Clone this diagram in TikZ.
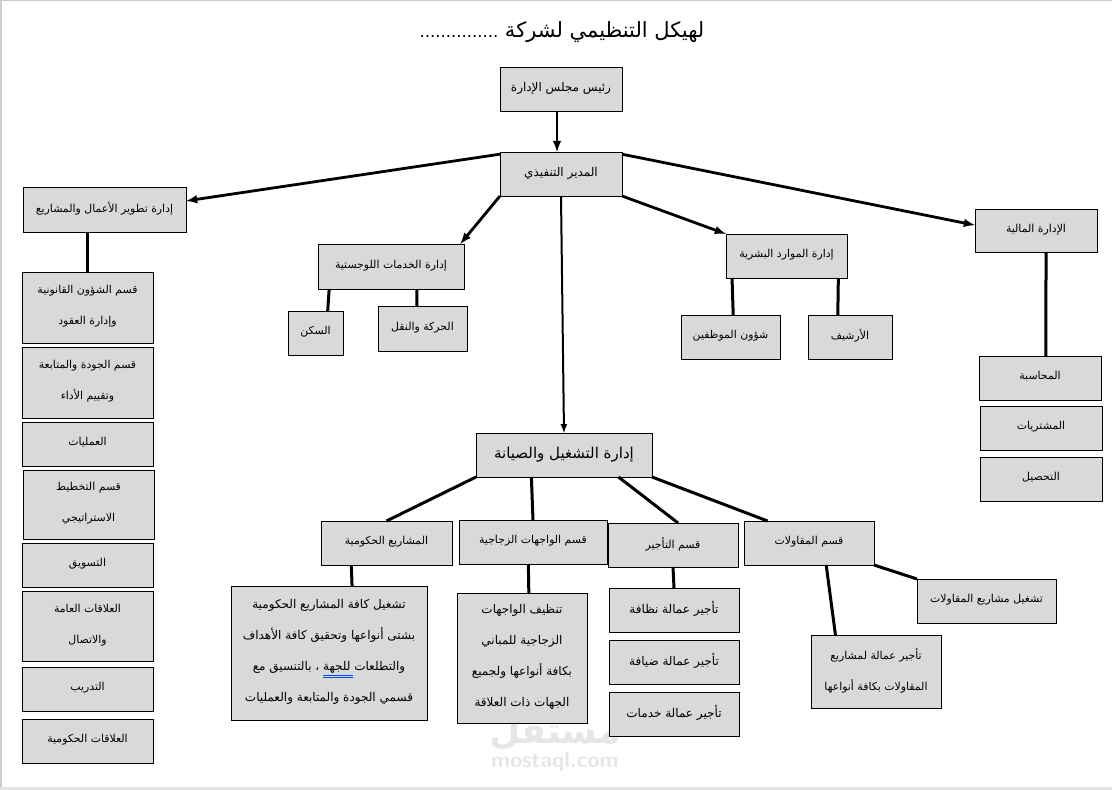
\documentclass[tikz,border=0pt]{standalone}
\usepackage{fontspec}
\newfontfamily\arabicfont[Script=Arabic]{DejaVu Sans}
\TeXXeTstate=1
\newcommand{\rl}[1]{\beginR #1\endR}
\newcommand{\rb}[1]{\fontsize{12}{31}\selectfont\beginR #1\endR}
\definecolor{boxgray}{HTML}{D9D9D9}
\definecolor{framegray}{HTML}{CCCCCC}
\definecolor{markgray}{HTML}{E6E6E6}
\tikzset{
    orgbox/.style={rectangle, draw, fill=boxgray, line width=0.8pt, outer sep=0pt, inner sep=0pt, align=center, text depth=5pt,
        font=\arabicfont\fontsize{10.9}{31}\selectfont},
    thickline/.style={line width=3pt},
    arrowline/.style={line width=2.8pt, -latex}
}
\begin{document}
\begin{tikzpicture}[x=1pt, y=-1pt]
\useasboundingbox (0,0) rectangle (1112,790);
\fill[framegray] (0,0) rectangle (1112,1);
\fill[framegray] (0,0) rectangle (2,790);
\fill[framegray!50] (0,787) rectangle (1112,790);
% watermark
\node[text=markgray, font=\arabicfont\bfseries\fontsize{36}{40}\selectfont] (markar) at (555,733) {\rl{مستقل}};
\node[text=markgray, font=\sffamily\bfseries\fontsize{22}{24}\selectfont] (markla) at (555,762) {mostaql.com};
% title
\node[font=\arabicfont\fontsize{21}{24}\selectfont] (title) at (562,32) {\rl{لهيكل التنظيمي لشركة {\fontsize{16.5}{24}\selectfont ...............}}};
% boxes
\foreach \name/\xc/\yc/\ww/\hh/\txt in {
    chair/561/89/122/44/{\rb{رئيس مجلس الإدارة}},
    ceo/561/174/122/44/{\rb{المدير التنفيذي}},
    dev/104.5/209.5/163/45/{\rl{إدارة تطوير الأعمال والمشاريع}},
    log/391/266.5/146/45/{\rl{إدارة الخدمات اللوجستية}},
    hr/786.5/256/121/44/{\rl{إدارة الموارد البشرية}},
    fin/1036/230.5/122/43/{\rl{الإدارة المالية}},
    housing/315.5/333/55/44/{\rl{السكن}},
    transport/422.5/328.5/89/45/{\rl{الحركة والنقل}},
    staff/730.5/337/99/44/{\rl{شؤون الموظفين}},
    archive/850/337/84/44/{\rl{الأرشيف}},
    accounting/1040/378/122/44/{\rl{المحاسبة}},
    purchases/1041/428/122/44/{\rl{المشتريات}},
    collection/1041/479/122/44/{\rl{التحصيل}},
    legal/87.5/307.5/131/71/{\rl{قسم الشؤون القانونية}\\\rl{وإدارة العقود}},
    quality/87.5/382.5/131/71/{\rl{قسم الجودة والمتابعة}\\\rl{وتقييم الأداء}},
    operations/87.5/444/131/44/{\rl{العمليات}},
    planning/88.5/504.5/131/69/{\rl{قسم التخطيط}\\\rl{الاستراتيجي}},
    marketing/87.5/565/131/44/{\rl{التسويق}},
    relations/87.5/626/131/70/{\rl{العلاقات العامة}\\\rl{والاتصال}},
    training/87.5/689/131/44/{\rl{التدريب}},
    government/87.5/741/131/44/{\rl{العلاقات الحكومية}},
    projects/386.5/543/131/44/{\rl{المشاريع الحكومية}},
    glass/533/542/148/44/{\rl{قسم الواجهات الزجاجية}},
    rent/673/545/130/44/{\rl{قسم التأجير}},
    contract/809/543/130/44/{\rl{قسم المقاولات}},
    projectsinfo/329/653/196/134/{\rb{تشغيل كافة المشاريع الحكومية}\\\rb{بشتى أنواعها وتحقيق كافة الأهداف}\\\rb{والتطلعات للجهة ، بالتنسيق مع}\\\rb{قسمي الجودة والمتابعة والعمليات}},
    glassinfo/522/658/130/130/{\rb{تنظيف الواجهات}\\\rb{الزجاجية للمباني}\\\rb{بكافة أنواعها ولجميع}\\\rb{الجهات ذات العلاقة}},
    cleaning/674/610/130/44/{\rb{تأجير عمالة نظافة}},
    hospitality/674/662/130/44/{\rb{تأجير عمالة ضيافة}},
    services/674/714/130/44/{\rb{تأجير عمالة خدمات}},
    contractops/986.5/601/139/44/{\rl{تشغيل مشاريع المقاولات}},
    labour/876/671.5/130/73/{\rl{تأجير عمالة لمشاريع}\\\rl{المقاولات بكافة أنواعها}}%
} {
    \node[orgbox, minimum width=\ww pt, minimum height=\hh pt] (\name) at (\xc,\yc) {\txt};
}
\node[orgbox, font=\arabicfont\fontsize{15}{31}\selectfont, minimum width=176pt, minimum height=44pt] (ops) at (564,455) {\rl{إدارة التشغيل والصيانة}};
% spelling mark
\draw[blue!70!cyan, line width=0.5pt] (323,675.5) -- (353,675.5) (323,677.5) -- (353,677.5);
% connectors
\draw[arrowline] ([xshift=-4pt]chair.south) -- ([xshift=-4pt]ceo.north);
\draw[arrowline] (ceo.162) -- (dev.6);
\draw[arrowline] (ceo.south west) -- (log.18);
\draw[arrowline] (ceo.south east) -- (hr.north west);
\draw[arrowline] (ceo.18) -- (fin.175);
\draw[line width=2pt, -latex] (ceo.south) -- (ops.north);
\draw[thickline] (legal.north |- dev.south) -- (legal.north);
\draw[thickline] (log.200) -- (housing.61);
\draw[thickline] (log.-41) -- (transport.104);
\draw[thickline] (hr.202.4) -- (staff.83.5);
\draw[thickline] (hr.-23) -- (archive.119);
\draw[thickline] (fin.-65) -- (accounting.75);
\draw[thickline] (ops.south west) -- (projects.north);
\draw[thickline] (ops.214.5) -- (glass.north);
\draw[thickline] (ops.-22.5) -- (rent.77);
\draw[thickline] (ops.south east) -- (contract.152);
\draw[thickline] (projects.212.5) -- (projectsinfo.71);
\draw[thickline] (glass.-102.8) -- (glassinfo.84.7);
\draw[thickline] (rent.south) -- (cleaning.north);
\draw[thickline] (contract.-52.3) -- (labour.138.3);
\draw[thickline] (contract.south east) -- (contractops.north west);
\end{tikzpicture}
\end{document}
